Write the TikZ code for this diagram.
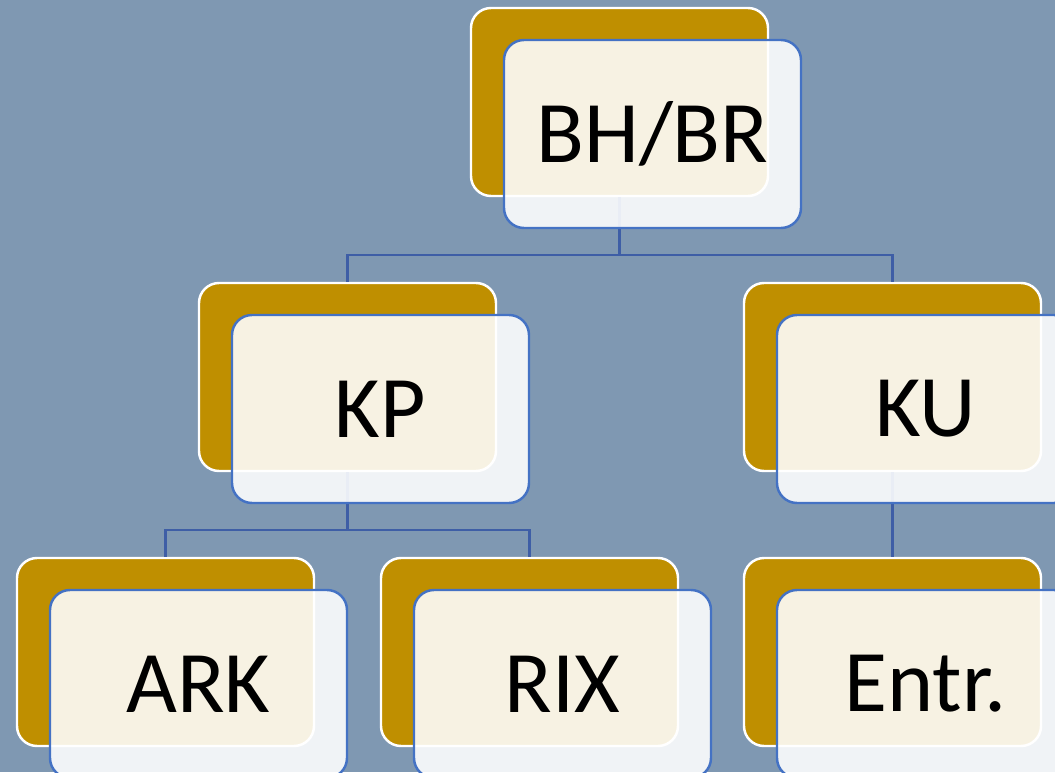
\documentclass[tikz,border=0pt]{standalone}
\usepackage{fontspec}
\setmainfont{Carlito}
\usetikzlibrary{positioning}

\definecolor{slate}{RGB}{127,152,178}
\definecolor{gold}{RGB}{191,143,0}
\definecolor{rimblue}{RGB}{68,114,196}
\definecolor{linkblue}{RGB}{62,94,166}

\begin{document}
\begin{tikzpicture}[
	backbox/.style={draw=white, line width=1.4pt, fill=gold, rounded corners=0.4cm, minimum width=5.94cm, minimum height=3.76cm},
	frontbox/.style={draw=rimblue, line width=1.4pt, fill=white, fill opacity=0.89, text opacity=1, rounded corners=0.4cm, minimum width=5.94cm, minimum height=3.76cm, font=\fontsize{50}{55}\selectfont},
	link/.style={draw=linkblue, line width=1.5pt}]
			\fill[slate] (0,0) rectangle (21.1,-15.44);
			\useasboundingbox (0,0) rectangle (21.1,-15.44);
			\clip (0,0) rectangle (21.1,-15.44);
			
			\coordinate (split1) at (12.39,-5.1);
			\coordinate (split2) at (6.95,-10.6);
			
			\node[backbox] at(12.39,-2.04) (bhbr)  {};
			\node[backbox] at(6.95,-7.54) (kp)  {};
			\node[backbox] at(17.85,-7.54) (ku)  {};
			\node[backbox] at(3.31,-13.04) (ark)  {};
			\node[backbox] at(10.59,-13.04) (rix)  {};
			\node[backbox] at(17.85,-13.04) (entr)  {};
			
			\draw[link] (bhbr.south) -- (split1);
			\draw[link] (split1) -| (kp.north);
			\draw[link] (split1) -| (ku.north);
			\draw[link] (kp.south) -- (split2);
			\draw[link] (split2) -| (ark.north);
			\draw[link] (split2) -| (rix.north);
			\draw[link] (ku.south) -- (entr.north);
			
			\node[frontbox] at(13.05,-2.68) (bhbrtext)  {BH/BR};
			\node[frontbox] at(7.61,-8.18) (kptext)  {KP};
			\node[frontbox] at(18.51,-8.18) (kutext)  {KU};
			\node[frontbox] at(3.97,-13.68) (arktext)  {ARK};
			\node[frontbox] at(11.25,-13.68) (rixtext)  {RIX};
			\node[frontbox] at(18.51,-13.68) (entrtext)  {Entr.};
			\end{tikzpicture}
\end{document}
